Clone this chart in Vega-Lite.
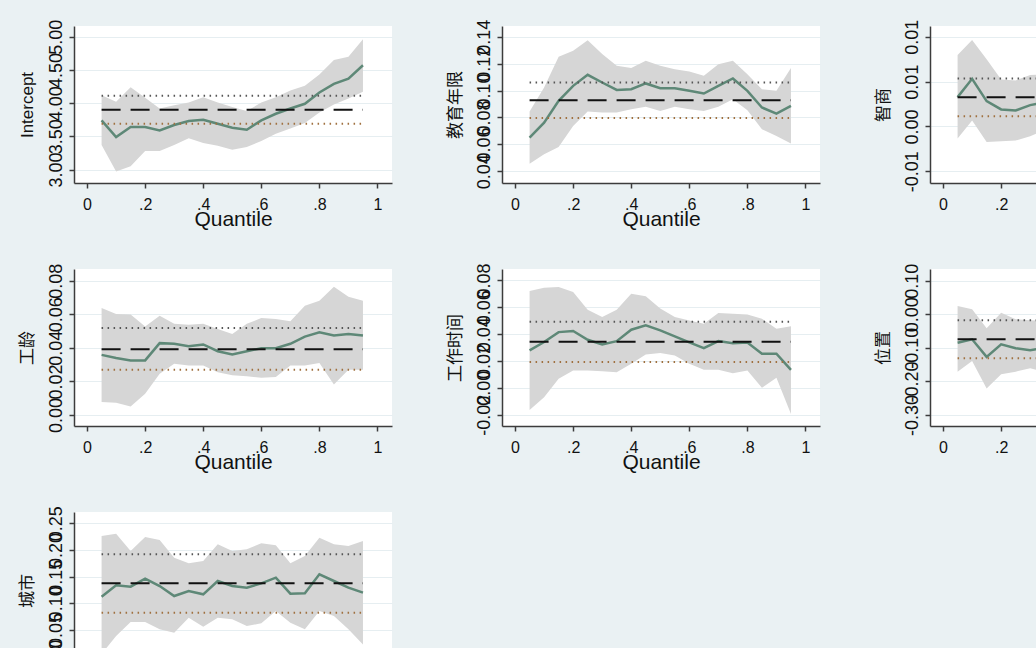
{
  "$schema": "https://vega.github.io/schema/vega-lite/v6.json",
  "padding": {"left": 18, "top": 19, "right": 0, "bottom": 0},
  "datasets": {
    "qr": [
      {"v":"Intercept","q":0.05,"b":3.74,"lo":3.37,"hi":4.12},
      {"v":"Intercept","q":0.10,"b":3.49,"lo":2.97,"hi":4.02},
      {"v":"Intercept","q":0.15,"b":3.64,"lo":3.05,"hi":4.24},
      {"v":"Intercept","q":0.20,"b":3.64,"lo":3.28,"hi":4.08},
      {"v":"Intercept","q":0.25,"b":3.59,"lo":3.28,"hi":3.92},
      {"v":"Intercept","q":0.30,"b":3.67,"lo":3.37,"hi":3.97},
      {"v":"Intercept","q":0.35,"b":3.73,"lo":3.47,"hi":4.01},
      {"v":"Intercept","q":0.40,"b":3.75,"lo":3.40,"hi":4.09},
      {"v":"Intercept","q":0.45,"b":3.69,"lo":3.36,"hi":4.01},
      {"v":"Intercept","q":0.50,"b":3.63,"lo":3.30,"hi":3.94},
      {"v":"Intercept","q":0.55,"b":3.60,"lo":3.34,"hi":3.88},
      {"v":"Intercept","q":0.60,"b":3.74,"lo":3.43,"hi":4.01},
      {"v":"Intercept","q":0.65,"b":3.84,"lo":3.54,"hi":4.09},
      {"v":"Intercept","q":0.70,"b":3.92,"lo":3.62,"hi":4.19},
      {"v":"Intercept","q":0.75,"b":3.99,"lo":3.70,"hi":4.26},
      {"v":"Intercept","q":0.80,"b":4.16,"lo":3.86,"hi":4.43},
      {"v":"Intercept","q":0.85,"b":4.29,"lo":3.98,"hi":4.65},
      {"v":"Intercept","q":0.90,"b":4.37,"lo":4.07,"hi":4.70},
      {"v":"Intercept","q":0.95,"b":4.57,"lo":4.17,"hi":4.96},

      {"v":"教育年限","q":0.05,"b":0.0651,"lo":0.0457,"hi":0.0844},
      {"v":"教育年限","q":0.10,"b":0.0762,"lo":0.0527,"hi":0.1023},
      {"v":"教育年限","q":0.15,"b":0.0924,"lo":0.0581,"hi":0.1251},
      {"v":"教育年限","q":0.20,"b":0.1035,"lo":0.0737,"hi":0.1296},
      {"v":"教育年限","q":0.25,"b":0.1117,"lo":0.0844,"hi":0.1375},
      {"v":"教育年限","q":0.30,"b":0.1060,"lo":0.0837,"hi":0.1271},
      {"v":"教育年限","q":0.35,"b":0.1005,"lo":0.0837,"hi":0.1184},
      {"v":"教育年限","q":0.40,"b":0.1010,"lo":0.0862,"hi":0.1167},
      {"v":"教育年限","q":0.45,"b":0.1053,"lo":0.0879,"hi":0.1221},
      {"v":"教育年限","q":0.50,"b":0.1018,"lo":0.0849,"hi":0.1184},
      {"v":"教育年限","q":0.55,"b":0.1018,"lo":0.0879,"hi":0.1159},
      {"v":"教育年限","q":0.60,"b":0.0998,"lo":0.0862,"hi":0.1142},
      {"v":"教育年限","q":0.65,"b":0.0978,"lo":0.0849,"hi":0.1110},
      {"v":"教育年限","q":0.70,"b":0.1035,"lo":0.0879,"hi":0.1196},
      {"v":"教育年限","q":0.75,"b":0.1090,"lo":0.0936,"hi":0.1221},
      {"v":"教育年限","q":0.80,"b":0.0998,"lo":0.0854,"hi":0.1122},
      {"v":"教育年限","q":0.85,"b":0.0874,"lo":0.0713,"hi":0.1010},
      {"v":"教育年限","q":0.90,"b":0.0829,"lo":0.0663,"hi":0.0998},
      {"v":"教育年限","q":0.95,"b":0.0886,"lo":0.0606,"hi":0.1167},

      {"v":"智商","q":0.05,"b":0.00327,"lo":-0.00134,"hi":0.00796},
      {"v":"智商","q":0.10,"b":0.00531,"lo":0.00067,"hi":0.00963},
      {"v":"智商","q":0.15,"b":0.00282,"lo":-0.00172,"hi":0.00748},
      {"v":"智商","q":0.20,"b":0.00190,"lo":-0.00164,"hi":0.00525},
      {"v":"智商","q":0.25,"b":0.00179,"lo":-0.00156,"hi":0.00513},
      {"v":"智商","q":0.30,"b":0.00238,"lo":-0.00108,"hi":0.00573},
      {"v":"智商","q":0.35,"b":0.00270,"lo":-0.00040,"hi":0.00580},
      {"v":"智商","q":0.40,"b":0.00300,"lo":0.00000,"hi":0.00600},
      {"v":"智商","q":0.45,"b":0.00330,"lo":0.00040,"hi":0.00620},
      {"v":"智商","q":0.50,"b":0.00350,"lo":0.00060,"hi":0.00640},
      {"v":"智商","q":0.55,"b":0.00320,"lo":0.00030,"hi":0.00610},
      {"v":"智商","q":0.60,"b":0.00360,"lo":0.00060,"hi":0.00660},
      {"v":"智商","q":0.65,"b":0.00400,"lo":0.00090,"hi":0.00710},
      {"v":"智商","q":0.70,"b":0.00380,"lo":0.00060,"hi":0.00700},
      {"v":"智商","q":0.75,"b":0.00340,"lo":0.00000,"hi":0.00680},
      {"v":"智商","q":0.80,"b":0.00310,"lo":-0.00040,"hi":0.00660},
      {"v":"智商","q":0.85,"b":0.00360,"lo":-0.00010,"hi":0.00730},
      {"v":"智商","q":0.90,"b":0.00410,"lo":0.00020,"hi":0.00800},
      {"v":"智商","q":0.95,"b":0.00450,"lo":0.00020,"hi":0.00880},

      {"v":"工龄","q":0.05,"b":0.0358,"lo":0.0077,"hi":0.0638},
      {"v":"工龄","q":0.10,"b":0.0339,"lo":0.0073,"hi":0.0602},
      {"v":"工龄","q":0.15,"b":0.0325,"lo":0.0051,"hi":0.0598},
      {"v":"工龄","q":0.20,"b":0.0325,"lo":0.0127,"hi":0.0527},
      {"v":"工龄","q":0.25,"b":0.0428,"lo":0.0246,"hi":0.0592},
      {"v":"工龄","q":0.30,"b":0.0424,"lo":0.0305,"hi":0.0543},
      {"v":"工龄","q":0.35,"b":0.0410,"lo":0.0295,"hi":0.0537},
      {"v":"工龄","q":0.40,"b":0.0420,"lo":0.0295,"hi":0.0543},
      {"v":"工龄","q":0.45,"b":0.0380,"lo":0.0255,"hi":0.0513},
      {"v":"工龄","q":0.50,"b":0.0360,"lo":0.0236,"hi":0.0483},
      {"v":"工龄","q":0.55,"b":0.0380,"lo":0.0230,"hi":0.0543},
      {"v":"工龄","q":0.60,"b":0.0398,"lo":0.0222,"hi":0.0578},
      {"v":"工龄","q":0.65,"b":0.0398,"lo":0.0226,"hi":0.0572},
      {"v":"工龄","q":0.70,"b":0.0424,"lo":0.0295,"hi":0.0558},
      {"v":"工龄","q":0.75,"b":0.0467,"lo":0.0295,"hi":0.0651},
      {"v":"工龄","q":0.80,"b":0.0493,"lo":0.0309,"hi":0.0681},
      {"v":"工龄","q":0.85,"b":0.0473,"lo":0.0182,"hi":0.0764},
      {"v":"工龄","q":0.90,"b":0.0483,"lo":0.0269,"hi":0.0705},
      {"v":"工龄","q":0.95,"b":0.0473,"lo":0.0269,"hi":0.0681},

      {"v":"工作时间","q":0.05,"b":0.0279,"lo":-0.0164,"hi":0.0721},
      {"v":"工作时间","q":0.10,"b":0.0341,"lo":-0.0070,"hi":0.0746},
      {"v":"工作时间","q":0.15,"b":0.0415,"lo":0.0067,"hi":0.0751},
      {"v":"工作时间","q":0.20,"b":0.0423,"lo":0.0129,"hi":0.0714},
      {"v":"工作时间","q":0.25,"b":0.0358,"lo":0.0129,"hi":0.0582},
      {"v":"工作时间","q":0.30,"b":0.0323,"lo":0.0124,"hi":0.0527},
      {"v":"工作时间","q":0.35,"b":0.0348,"lo":0.0117,"hi":0.0582},
      {"v":"工作时间","q":0.40,"b":0.0433,"lo":0.0179,"hi":0.0701},
      {"v":"工作时间","q":0.45,"b":0.0465,"lo":0.0249,"hi":0.0682},
      {"v":"工作时间","q":0.50,"b":0.0428,"lo":0.0259,"hi":0.0590},
      {"v":"工作时间","q":0.55,"b":0.0383,"lo":0.0241,"hi":0.0527},
      {"v":"工作时间","q":0.60,"b":0.0338,"lo":0.0179,"hi":0.0502},
      {"v":"工作时间","q":0.65,"b":0.0296,"lo":0.0134,"hi":0.0478},
      {"v":"工作时间","q":0.70,"b":0.0348,"lo":0.0134,"hi":0.0557},
      {"v":"工作时间","q":0.75,"b":0.0333,"lo":0.0109,"hi":0.0552},
      {"v":"工作时间","q":0.80,"b":0.0338,"lo":0.0129,"hi":0.0547},
      {"v":"工作时间","q":0.85,"b":0.0254,"lo":0.0000,"hi":0.0515},
      {"v":"工作时间","q":0.90,"b":0.0254,"lo":0.0075,"hi":0.0440},
      {"v":"工作时间","q":0.95,"b":0.0134,"lo":-0.0194,"hi":0.0458},

      {"v":"位置","q":0.05,"b":-0.0847,"lo":-0.171,"hi":0.0248},
      {"v":"位置","q":0.10,"b":-0.0746,"lo":-0.139,"hi":0.0149},
      {"v":"位置","q":0.15,"b":-0.127,"lo":-0.221,"hi":-0.0418},
      {"v":"位置","q":0.20,"b":-0.0896,"lo":-0.179,"hi":0.0048},
      {"v":"位置","q":0.25,"b":-0.101,"lo":-0.171,"hi":-0.0149},
      {"v":"位置","q":0.30,"b":-0.107,"lo":-0.161,"hi":-0.018},
      {"v":"位置","q":0.35,"b":-0.100,"lo":-0.172,"hi":-0.020},
      {"v":"位置","q":0.40,"b":-0.095,"lo":-0.168,"hi":-0.015},
      {"v":"位置","q":0.45,"b":-0.088,"lo":-0.160,"hi":-0.010},
      {"v":"位置","q":0.50,"b":-0.080,"lo":-0.152,"hi":-0.005},
      {"v":"位置","q":0.55,"b":-0.085,"lo":-0.160,"hi":-0.008},
      {"v":"位置","q":0.60,"b":-0.075,"lo":-0.150,"hi":0.002},
      {"v":"位置","q":0.65,"b":-0.070,"lo":-0.148,"hi":0.008},
      {"v":"位置","q":0.70,"b":-0.078,"lo":-0.155,"hi":0.000},
      {"v":"位置","q":0.75,"b":-0.066,"lo":-0.145,"hi":0.015},
      {"v":"位置","q":0.80,"b":-0.060,"lo":-0.142,"hi":0.022},
      {"v":"位置","q":0.85,"b":-0.072,"lo":-0.155,"hi":0.010},
      {"v":"位置","q":0.90,"b":-0.068,"lo":-0.160,"hi":0.020},
      {"v":"位置","q":0.95,"b":-0.058,"lo":-0.155,"hi":0.035},

      {"v":"城市","q":0.05,"b":0.1125,"lo":0.005,"hi":0.2263},
      {"v":"城市","q":0.10,"b":0.1338,"lo":0.0388,"hi":0.2306},
      {"v":"城市","q":0.15,"b":0.1313,"lo":0.065,"hi":0.1981},
      {"v":"城市","q":0.20,"b":0.1463,"lo":0.065,"hi":0.2244},
      {"v":"城市","q":0.25,"b":0.1325,"lo":0.0513,"hi":0.2188},
      {"v":"城市","q":0.30,"b":0.1138,"lo":0.045,"hi":0.1856},
      {"v":"城市","q":0.35,"b":0.1231,"lo":0.0731,"hi":0.175},
      {"v":"城市","q":0.40,"b":0.1169,"lo":0.0563,"hi":0.1794},
      {"v":"城市","q":0.45,"b":0.1419,"lo":0.0731,"hi":0.2106},
      {"v":"城市","q":0.50,"b":0.1325,"lo":0.070,"hi":0.1981},
      {"v":"城市","q":0.55,"b":0.1294,"lo":0.0575,"hi":0.2013},
      {"v":"城市","q":0.60,"b":0.1375,"lo":0.0625,"hi":0.2125},
      {"v":"城市","q":0.65,"b":0.1481,"lo":0.0856,"hi":0.2088},
      {"v":"城市","q":0.70,"b":0.1181,"lo":0.0638,"hi":0.175},
      {"v":"城市","q":0.75,"b":0.1188,"lo":0.0513,"hi":0.1888},
      {"v":"城市","q":0.80,"b":0.1544,"lo":0.0856,"hi":0.2231},
      {"v":"城市","q":0.85,"b":0.1419,"lo":0.0763,"hi":0.2106},
      {"v":"城市","q":0.90,"b":0.1294,"lo":0.0513,"hi":0.2075},
      {"v":"城市","q":0.95,"b":0.1200,"lo":0.0231,"hi":0.2169}
    ],
    "ols": [
      {"v":"Intercept","q":0.05,"est":3.90,"lo":3.69,"hi":4.11},
      {"v":"Intercept","q":0.95,"est":3.90,"lo":3.69,"hi":4.11},
      {"v":"教育年限","q":0.05,"est":0.0929,"lo":0.0797,"hi":0.1060},
      {"v":"教育年限","q":0.95,"est":0.0929,"lo":0.0797,"hi":0.1060},
      {"v":"智商","q":0.05,"est":0.00327,"lo":0.00115,"hi":0.00536},
      {"v":"智商","q":0.95,"est":0.00327,"lo":0.00115,"hi":0.00536},
      {"v":"工龄","q":0.05,"est":0.0392,"lo":0.0269,"hi":0.0519},
      {"v":"工龄","q":0.95,"est":0.0392,"lo":0.0269,"hi":0.0519},
      {"v":"工作时间","q":0.05,"est":0.0343,"lo":0.0192,"hi":0.0493},
      {"v":"工作时间","q":0.95,"est":0.0343,"lo":0.0192,"hi":0.0493},
      {"v":"位置","q":0.05,"est":-0.0746,"lo":-0.131,"hi":-0.018},
      {"v":"位置","q":0.95,"est":-0.0746,"lo":-0.131,"hi":-0.018},
      {"v":"城市","q":0.05,"est":0.1375,"lo":0.0825,"hi":0.1919},
      {"v":"城市","q":0.95,"est":0.1375,"lo":0.0825,"hi":0.1919}
    ]
  },
  "columns": 3,
  "spacing": {"row": 86, "column": 110},
  "bounds": "flush",
  "concat": [
      {"width":318,"height":157,"layer":[
        {"data":{"name":"qr"},"transform":[{"filter":"datum.v==='Intercept'"}],"mark":{"type":"area","color":"#d6d6d6","opacity":1},
         "encoding":{"x":{"field":"q","type":"quantitative","title":"Quantile","scale":{"domain":[-0.045,1.05],"nice":false,"zero":false},"axis":{"values":[0,0.2,0.4,0.6,0.8,1],"labelOverlap":false,"labelExpr":"datum.value===0?'0':datum.value===1?'1':'.'+round(datum.value*10)"}},
                     "y":{"field":"hi","type":"quantitative","title":"Intercept","scale":{"domain":[2.798,5.161],"nice":false,"zero":false},"axis":{"values":[3,3.5,4,4.5,5],"labelOverlap":false,"labelExpr":"replace(format(datum.value,'.2f'),'\u2212','-')"}},
                     "y2":{"field":"lo"}}},
        {"data":{"name":"qr"},"transform":[{"filter":"datum.v==='Intercept'"}],"mark":{"type":"line","color":"#5e8877","strokeWidth":2.5},
         "encoding":{"x":{"field":"q","type":"quantitative","title":"Quantile","axis":{"values":[0,0.2,0.4,0.6,0.8,1],"labelOverlap":false,"labelExpr":"datum.value===0?'0':datum.value===1?'1':'.'+round(datum.value*10)"}},"y":{"field":"b","type":"quantitative","title":"Intercept","axis":{"values":[3,3.5,4,4.5,5],"labelOverlap":false,"labelExpr":"replace(format(datum.value,'.2f'),'\u2212','-')"}}}},
        {"data":{"name":"ols"},"transform":[{"filter":"datum.v==='Intercept'"}],"mark":{"type":"line","color":"#555555","strokeWidth":2,"strokeDash":[1.5,4.5]},
         "encoding":{"x":{"field":"q","type":"quantitative","title":"Quantile","axis":{"values":[0,0.2,0.4,0.6,0.8,1],"labelOverlap":false,"labelExpr":"datum.value===0?'0':datum.value===1?'1':'.'+round(datum.value*10)"}},"y":{"field":"hi","type":"quantitative","title":"Intercept","axis":{"values":[3,3.5,4,4.5,5],"labelOverlap":false,"labelExpr":"replace(format(datum.value,'.2f'),'\u2212','-')"}}}},
        {"data":{"name":"ols"},"transform":[{"filter":"datum.v==='Intercept'"}],"mark":{"type":"line","color":"#a0703f","strokeWidth":2,"strokeDash":[1.5,4.5]},
         "encoding":{"x":{"field":"q","type":"quantitative","title":"Quantile","axis":{"values":[0,0.2,0.4,0.6,0.8,1],"labelOverlap":false,"labelExpr":"datum.value===0?'0':datum.value===1?'1':'.'+round(datum.value*10)"}},"y":{"field":"lo","type":"quantitative","title":"Intercept","axis":{"values":[3,3.5,4,4.5,5],"labelOverlap":false,"labelExpr":"replace(format(datum.value,'.2f'),'\u2212','-')"}}}},
        {"data":{"name":"ols"},"transform":[{"filter":"datum.v==='Intercept'"}],"mark":{"type":"line","color":"#111111","strokeWidth":2,"strokeDash":[19,10]},
         "encoding":{"x":{"field":"q","type":"quantitative","title":"Quantile","axis":{"values":[0,0.2,0.4,0.6,0.8,1],"labelOverlap":false,"labelExpr":"datum.value===0?'0':datum.value===1?'1':'.'+round(datum.value*10)"}},"y":{"field":"est","type":"quantitative","title":"Intercept","axis":{"values":[3,3.5,4,4.5,5],"labelOverlap":false,"labelExpr":"replace(format(datum.value,'.2f'),'\u2212','-')"}}}}
      ]},
      {"width":318,"height":157,"layer":[
        {"data":{"name":"qr"},"transform":[{"filter":"datum.v==='教育年限'"}],"mark":{"type":"area","color":"#d6d6d6","opacity":1},
         "encoding":{"x":{"field":"q","type":"quantitative","title":"Quantile","scale":{"domain":[-0.045,1.05],"nice":false,"zero":false},"axis":{"values":[0,0.2,0.4,0.6,0.8,1],"labelOverlap":false,"labelExpr":"datum.value===0?'0':datum.value===1?'1':'.'+round(datum.value*10)"}},
                     "y":{"field":"hi","type":"quantitative","title":"教育年限","scale":{"domain":[0.0313,0.148],"nice":false,"zero":false},"axis":{"values":[0.04,0.06,0.08,0.10,0.12,0.14],"labelOverlap":false,"labelExpr":"replace(format(datum.value,'.2f'),'\u2212','-')"}},
                     "y2":{"field":"lo"}}},
        {"data":{"name":"qr"},"transform":[{"filter":"datum.v==='教育年限'"}],"mark":{"type":"line","color":"#5e8877","strokeWidth":2.5},
         "encoding":{"x":{"field":"q","type":"quantitative","title":"Quantile","axis":{"values":[0,0.2,0.4,0.6,0.8,1],"labelOverlap":false,"labelExpr":"datum.value===0?'0':datum.value===1?'1':'.'+round(datum.value*10)"}},"y":{"field":"b","type":"quantitative","title":"教育年限","axis":{"values":[0.04,0.06,0.08,0.10,0.12,0.14],"labelOverlap":false,"labelExpr":"replace(format(datum.value,'.2f'),'\u2212','-')"}}}},
        {"data":{"name":"ols"},"transform":[{"filter":"datum.v==='教育年限'"}],"mark":{"type":"line","color":"#555555","strokeWidth":2,"strokeDash":[1.5,4.5]},
         "encoding":{"x":{"field":"q","type":"quantitative","title":"Quantile","axis":{"values":[0,0.2,0.4,0.6,0.8,1],"labelOverlap":false,"labelExpr":"datum.value===0?'0':datum.value===1?'1':'.'+round(datum.value*10)"}},"y":{"field":"hi","type":"quantitative","title":"教育年限","axis":{"values":[0.04,0.06,0.08,0.10,0.12,0.14],"labelOverlap":false,"labelExpr":"replace(format(datum.value,'.2f'),'\u2212','-')"}}}},
        {"data":{"name":"ols"},"transform":[{"filter":"datum.v==='教育年限'"}],"mark":{"type":"line","color":"#a0703f","strokeWidth":2,"strokeDash":[1.5,4.5]},
         "encoding":{"x":{"field":"q","type":"quantitative","title":"Quantile","axis":{"values":[0,0.2,0.4,0.6,0.8,1],"labelOverlap":false,"labelExpr":"datum.value===0?'0':datum.value===1?'1':'.'+round(datum.value*10)"}},"y":{"field":"lo","type":"quantitative","title":"教育年限","axis":{"values":[0.04,0.06,0.08,0.10,0.12,0.14],"labelOverlap":false,"labelExpr":"replace(format(datum.value,'.2f'),'\u2212','-')"}}}},
        {"data":{"name":"ols"},"transform":[{"filter":"datum.v==='教育年限'"}],"mark":{"type":"line","color":"#111111","strokeWidth":2,"strokeDash":[19,10]},
         "encoding":{"x":{"field":"q","type":"quantitative","title":"Quantile","axis":{"values":[0,0.2,0.4,0.6,0.8,1],"labelOverlap":false,"labelExpr":"datum.value===0?'0':datum.value===1?'1':'.'+round(datum.value*10)"}},"y":{"field":"est","type":"quantitative","title":"教育年限","axis":{"values":[0.04,0.06,0.08,0.10,0.12,0.14],"labelOverlap":false,"labelExpr":"replace(format(datum.value,'.2f'),'\u2212','-')"}}}}
      ]},
      {"width":318,"height":157,"layer":[
        {"data":{"name":"qr"},"transform":[{"filter":"datum.v==='智商'"}],"mark":{"type":"area","color":"#d6d6d6","opacity":1},
         "encoding":{"x":{"field":"q","type":"quantitative","title":"Quantile","scale":{"domain":[-0.045,1.05],"nice":false,"zero":false},"axis":{"values":[0,0.2,0.4,0.6,0.8,1],"labelOverlap":false,"labelExpr":"datum.value===0?'0':datum.value===1?'1':'.'+round(datum.value*10)"}},
                     "y":{"field":"hi","type":"quantitative","title":"智商","scale":{"domain":[-0.0063,0.0112],"nice":false,"zero":false},"axis":{"values":[-0.005,0,0.005,0.01],"labelOverlap":false,"labelExpr":"replace(format(datum.value,'.2f'),'\u2212','-')"}},
                     "y2":{"field":"lo"}}},
        {"data":{"name":"qr"},"transform":[{"filter":"datum.v==='智商'"}],"mark":{"type":"line","color":"#5e8877","strokeWidth":2.5},
         "encoding":{"x":{"field":"q","type":"quantitative","title":"Quantile","axis":{"values":[0,0.2,0.4,0.6,0.8,1],"labelOverlap":false,"labelExpr":"datum.value===0?'0':datum.value===1?'1':'.'+round(datum.value*10)"}},"y":{"field":"b","type":"quantitative","title":"智商","axis":{"values":[-0.005,0,0.005,0.01],"labelOverlap":false,"labelExpr":"replace(format(datum.value,'.2f'),'\u2212','-')"}}}},
        {"data":{"name":"ols"},"transform":[{"filter":"datum.v==='智商'"}],"mark":{"type":"line","color":"#555555","strokeWidth":2,"strokeDash":[1.5,4.5]},
         "encoding":{"x":{"field":"q","type":"quantitative","title":"Quantile","axis":{"values":[0,0.2,0.4,0.6,0.8,1],"labelOverlap":false,"labelExpr":"datum.value===0?'0':datum.value===1?'1':'.'+round(datum.value*10)"}},"y":{"field":"hi","type":"quantitative","title":"智商","axis":{"values":[-0.005,0,0.005,0.01],"labelOverlap":false,"labelExpr":"replace(format(datum.value,'.2f'),'\u2212','-')"}}}},
        {"data":{"name":"ols"},"transform":[{"filter":"datum.v==='智商'"}],"mark":{"type":"line","color":"#a0703f","strokeWidth":2,"strokeDash":[1.5,4.5]},
         "encoding":{"x":{"field":"q","type":"quantitative","title":"Quantile","axis":{"values":[0,0.2,0.4,0.6,0.8,1],"labelOverlap":false,"labelExpr":"datum.value===0?'0':datum.value===1?'1':'.'+round(datum.value*10)"}},"y":{"field":"lo","type":"quantitative","title":"智商","axis":{"values":[-0.005,0,0.005,0.01],"labelOverlap":false,"labelExpr":"replace(format(datum.value,'.2f'),'\u2212','-')"}}}},
        {"data":{"name":"ols"},"transform":[{"filter":"datum.v==='智商'"}],"mark":{"type":"line","color":"#111111","strokeWidth":2,"strokeDash":[19,10]},
         "encoding":{"x":{"field":"q","type":"quantitative","title":"Quantile","axis":{"values":[0,0.2,0.4,0.6,0.8,1],"labelOverlap":false,"labelExpr":"datum.value===0?'0':datum.value===1?'1':'.'+round(datum.value*10)"}},"y":{"field":"est","type":"quantitative","title":"智商","axis":{"values":[-0.005,0,0.005,0.01],"labelOverlap":false,"labelExpr":"replace(format(datum.value,'.2f'),'\u2212','-')"}}}}
      ]},
      {"width":318,"height":157,"layer":[
        {"data":{"name":"qr"},"transform":[{"filter":"datum.v==='工龄'"}],"mark":{"type":"area","color":"#d6d6d6","opacity":1},
         "encoding":{"x":{"field":"q","type":"quantitative","title":"Quantile","scale":{"domain":[-0.045,1.05],"nice":false,"zero":false},"axis":{"values":[0,0.2,0.4,0.6,0.8,1],"labelOverlap":false,"labelExpr":"datum.value===0?'0':datum.value===1?'1':'.'+round(datum.value*10)"}},
                     "y":{"field":"hi","type":"quantitative","title":"工龄","scale":{"domain":[-0.0066,0.087],"nice":false,"zero":false},"axis":{"values":[0,0.02,0.04,0.06,0.08],"labelOverlap":false,"labelExpr":"replace(format(datum.value,'.2f'),'\u2212','-')"}},
                     "y2":{"field":"lo"}}},
        {"data":{"name":"qr"},"transform":[{"filter":"datum.v==='工龄'"}],"mark":{"type":"line","color":"#5e8877","strokeWidth":2.5},
         "encoding":{"x":{"field":"q","type":"quantitative","title":"Quantile","axis":{"values":[0,0.2,0.4,0.6,0.8,1],"labelOverlap":false,"labelExpr":"datum.value===0?'0':datum.value===1?'1':'.'+round(datum.value*10)"}},"y":{"field":"b","type":"quantitative","title":"工龄","axis":{"values":[0,0.02,0.04,0.06,0.08],"labelOverlap":false,"labelExpr":"replace(format(datum.value,'.2f'),'\u2212','-')"}}}},
        {"data":{"name":"ols"},"transform":[{"filter":"datum.v==='工龄'"}],"mark":{"type":"line","color":"#555555","strokeWidth":2,"strokeDash":[1.5,4.5]},
         "encoding":{"x":{"field":"q","type":"quantitative","title":"Quantile","axis":{"values":[0,0.2,0.4,0.6,0.8,1],"labelOverlap":false,"labelExpr":"datum.value===0?'0':datum.value===1?'1':'.'+round(datum.value*10)"}},"y":{"field":"hi","type":"quantitative","title":"工龄","axis":{"values":[0,0.02,0.04,0.06,0.08],"labelOverlap":false,"labelExpr":"replace(format(datum.value,'.2f'),'\u2212','-')"}}}},
        {"data":{"name":"ols"},"transform":[{"filter":"datum.v==='工龄'"}],"mark":{"type":"line","color":"#a0703f","strokeWidth":2,"strokeDash":[1.5,4.5]},
         "encoding":{"x":{"field":"q","type":"quantitative","title":"Quantile","axis":{"values":[0,0.2,0.4,0.6,0.8,1],"labelOverlap":false,"labelExpr":"datum.value===0?'0':datum.value===1?'1':'.'+round(datum.value*10)"}},"y":{"field":"lo","type":"quantitative","title":"工龄","axis":{"values":[0,0.02,0.04,0.06,0.08],"labelOverlap":false,"labelExpr":"replace(format(datum.value,'.2f'),'\u2212','-')"}}}},
        {"data":{"name":"ols"},"transform":[{"filter":"datum.v==='工龄'"}],"mark":{"type":"line","color":"#111111","strokeWidth":2,"strokeDash":[19,10]},
         "encoding":{"x":{"field":"q","type":"quantitative","title":"Quantile","axis":{"values":[0,0.2,0.4,0.6,0.8,1],"labelOverlap":false,"labelExpr":"datum.value===0?'0':datum.value===1?'1':'.'+round(datum.value*10)"}},"y":{"field":"est","type":"quantitative","title":"工龄","axis":{"values":[0,0.02,0.04,0.06,0.08],"labelOverlap":false,"labelExpr":"replace(format(datum.value,'.2f'),'\u2212','-')"}}}}
      ]},
      {"width":318,"height":157,"layer":[
        {"data":{"name":"qr"},"transform":[{"filter":"datum.v==='工作时间'"}],"mark":{"type":"area","color":"#d6d6d6","opacity":1},
         "encoding":{"x":{"field":"q","type":"quantitative","title":"Quantile","scale":{"domain":[-0.045,1.05],"nice":false,"zero":false},"axis":{"values":[0,0.2,0.4,0.6,0.8,1],"labelOverlap":false,"labelExpr":"datum.value===0?'0':datum.value===1?'1':'.'+round(datum.value*10)"}},
                     "y":{"field":"hi","type":"quantitative","title":"工作时间","scale":{"domain":[-0.0284,0.0885],"nice":false,"zero":false},"axis":{"values":[-0.02,0,0.02,0.04,0.06,0.08],"labelOverlap":false,"labelExpr":"replace(format(datum.value,'.2f'),'\u2212','-')"}},
                     "y2":{"field":"lo"}}},
        {"data":{"name":"qr"},"transform":[{"filter":"datum.v==='工作时间'"}],"mark":{"type":"line","color":"#5e8877","strokeWidth":2.5},
         "encoding":{"x":{"field":"q","type":"quantitative","title":"Quantile","axis":{"values":[0,0.2,0.4,0.6,0.8,1],"labelOverlap":false,"labelExpr":"datum.value===0?'0':datum.value===1?'1':'.'+round(datum.value*10)"}},"y":{"field":"b","type":"quantitative","title":"工作时间","axis":{"values":[-0.02,0,0.02,0.04,0.06,0.08],"labelOverlap":false,"labelExpr":"replace(format(datum.value,'.2f'),'\u2212','-')"}}}},
        {"data":{"name":"ols"},"transform":[{"filter":"datum.v==='工作时间'"}],"mark":{"type":"line","color":"#555555","strokeWidth":2,"strokeDash":[1.5,4.5]},
         "encoding":{"x":{"field":"q","type":"quantitative","title":"Quantile","axis":{"values":[0,0.2,0.4,0.6,0.8,1],"labelOverlap":false,"labelExpr":"datum.value===0?'0':datum.value===1?'1':'.'+round(datum.value*10)"}},"y":{"field":"hi","type":"quantitative","title":"工作时间","axis":{"values":[-0.02,0,0.02,0.04,0.06,0.08],"labelOverlap":false,"labelExpr":"replace(format(datum.value,'.2f'),'\u2212','-')"}}}},
        {"data":{"name":"ols"},"transform":[{"filter":"datum.v==='工作时间'"}],"mark":{"type":"line","color":"#a0703f","strokeWidth":2,"strokeDash":[1.5,4.5]},
         "encoding":{"x":{"field":"q","type":"quantitative","title":"Quantile","axis":{"values":[0,0.2,0.4,0.6,0.8,1],"labelOverlap":false,"labelExpr":"datum.value===0?'0':datum.value===1?'1':'.'+round(datum.value*10)"}},"y":{"field":"lo","type":"quantitative","title":"工作时间","axis":{"values":[-0.02,0,0.02,0.04,0.06,0.08],"labelOverlap":false,"labelExpr":"replace(format(datum.value,'.2f'),'\u2212','-')"}}}},
        {"data":{"name":"ols"},"transform":[{"filter":"datum.v==='工作时间'"}],"mark":{"type":"line","color":"#111111","strokeWidth":2,"strokeDash":[19,10]},
         "encoding":{"x":{"field":"q","type":"quantitative","title":"Quantile","axis":{"values":[0,0.2,0.4,0.6,0.8,1],"labelOverlap":false,"labelExpr":"datum.value===0?'0':datum.value===1?'1':'.'+round(datum.value*10)"}},"y":{"field":"est","type":"quantitative","title":"工作时间","axis":{"values":[-0.02,0,0.02,0.04,0.06,0.08],"labelOverlap":false,"labelExpr":"replace(format(datum.value,'.2f'),'\u2212','-')"}}}}
      ]},
      {"width":318,"height":157,"layer":[
        {"data":{"name":"qr"},"transform":[{"filter":"datum.v==='位置'"}],"mark":{"type":"area","color":"#d6d6d6","opacity":1},
         "encoding":{"x":{"field":"q","type":"quantitative","title":"Quantile","scale":{"domain":[-0.045,1.05],"nice":false,"zero":false},"axis":{"values":[0,0.2,0.4,0.6,0.8,1],"labelOverlap":false,"labelExpr":"datum.value===0?'0':datum.value===1?'1':'.'+round(datum.value*10)"}},
                     "y":{"field":"hi","type":"quantitative","title":"位置","scale":{"domain":[-0.333,0.135],"nice":false,"zero":false},"axis":{"values":[-0.3,-0.2,-0.1,0,0.1],"labelOverlap":false,"labelExpr":"replace(format(datum.value,'.2f'),'\u2212','-')"}},
                     "y2":{"field":"lo"}}},
        {"data":{"name":"qr"},"transform":[{"filter":"datum.v==='位置'"}],"mark":{"type":"line","color":"#5e8877","strokeWidth":2.5},
         "encoding":{"x":{"field":"q","type":"quantitative","title":"Quantile","axis":{"values":[0,0.2,0.4,0.6,0.8,1],"labelOverlap":false,"labelExpr":"datum.value===0?'0':datum.value===1?'1':'.'+round(datum.value*10)"}},"y":{"field":"b","type":"quantitative","title":"位置","axis":{"values":[-0.3,-0.2,-0.1,0,0.1],"labelOverlap":false,"labelExpr":"replace(format(datum.value,'.2f'),'\u2212','-')"}}}},
        {"data":{"name":"ols"},"transform":[{"filter":"datum.v==='位置'"}],"mark":{"type":"line","color":"#555555","strokeWidth":2,"strokeDash":[1.5,4.5]},
         "encoding":{"x":{"field":"q","type":"quantitative","title":"Quantile","axis":{"values":[0,0.2,0.4,0.6,0.8,1],"labelOverlap":false,"labelExpr":"datum.value===0?'0':datum.value===1?'1':'.'+round(datum.value*10)"}},"y":{"field":"hi","type":"quantitative","title":"位置","axis":{"values":[-0.3,-0.2,-0.1,0,0.1],"labelOverlap":false,"labelExpr":"replace(format(datum.value,'.2f'),'\u2212','-')"}}}},
        {"data":{"name":"ols"},"transform":[{"filter":"datum.v==='位置'"}],"mark":{"type":"line","color":"#a0703f","strokeWidth":2,"strokeDash":[1.5,4.5]},
         "encoding":{"x":{"field":"q","type":"quantitative","title":"Quantile","axis":{"values":[0,0.2,0.4,0.6,0.8,1],"labelOverlap":false,"labelExpr":"datum.value===0?'0':datum.value===1?'1':'.'+round(datum.value*10)"}},"y":{"field":"lo","type":"quantitative","title":"位置","axis":{"values":[-0.3,-0.2,-0.1,0,0.1],"labelOverlap":false,"labelExpr":"replace(format(datum.value,'.2f'),'\u2212','-')"}}}},
        {"data":{"name":"ols"},"transform":[{"filter":"datum.v==='位置'"}],"mark":{"type":"line","color":"#111111","strokeWidth":2,"strokeDash":[19,10]},
         "encoding":{"x":{"field":"q","type":"quantitative","title":"Quantile","axis":{"values":[0,0.2,0.4,0.6,0.8,1],"labelOverlap":false,"labelExpr":"datum.value===0?'0':datum.value===1?'1':'.'+round(datum.value*10)"}},"y":{"field":"est","type":"quantitative","title":"位置","axis":{"values":[-0.3,-0.2,-0.1,0,0.1],"labelOverlap":false,"labelExpr":"replace(format(datum.value,'.2f'),'\u2212','-')"}}}}
      ]},
      {"width":318,"height":157,"layer":[
        {"data":{"name":"qr"},"transform":[{"filter":"datum.v==='城市'"}],"mark":{"type":"area","color":"#d6d6d6","opacity":1},
         "encoding":{"x":{"field":"q","type":"quantitative","title":"Quantile","scale":{"domain":[-0.045,1.05],"nice":false,"zero":false},"axis":{"values":[0,0.2,0.4,0.6,0.8,1],"labelOverlap":false,"labelExpr":"datum.value===0?'0':datum.value===1?'1':'.'+round(datum.value*10)"}},
                     "y":{"field":"hi","type":"quantitative","title":"城市","scale":{"domain":[-0.023,0.2712],"nice":false,"zero":false},"axis":{"values":[0,0.05,0.10,0.15,0.20,0.25],"labelOverlap":false,"labelExpr":"replace(format(datum.value,'.2f'),'\u2212','-')"}},
                     "y2":{"field":"lo"}}},
        {"data":{"name":"qr"},"transform":[{"filter":"datum.v==='城市'"}],"mark":{"type":"line","color":"#5e8877","strokeWidth":2.5},
         "encoding":{"x":{"field":"q","type":"quantitative","title":"Quantile","axis":{"values":[0,0.2,0.4,0.6,0.8,1],"labelOverlap":false,"labelExpr":"datum.value===0?'0':datum.value===1?'1':'.'+round(datum.value*10)"}},"y":{"field":"b","type":"quantitative","title":"城市","axis":{"values":[0,0.05,0.10,0.15,0.20,0.25],"labelOverlap":false,"labelExpr":"replace(format(datum.value,'.2f'),'\u2212','-')"}}}},
        {"data":{"name":"ols"},"transform":[{"filter":"datum.v==='城市'"}],"mark":{"type":"line","color":"#555555","strokeWidth":2,"strokeDash":[1.5,4.5]},
         "encoding":{"x":{"field":"q","type":"quantitative","title":"Quantile","axis":{"values":[0,0.2,0.4,0.6,0.8,1],"labelOverlap":false,"labelExpr":"datum.value===0?'0':datum.value===1?'1':'.'+round(datum.value*10)"}},"y":{"field":"hi","type":"quantitative","title":"城市","axis":{"values":[0,0.05,0.10,0.15,0.20,0.25],"labelOverlap":false,"labelExpr":"replace(format(datum.value,'.2f'),'\u2212','-')"}}}},
        {"data":{"name":"ols"},"transform":[{"filter":"datum.v==='城市'"}],"mark":{"type":"line","color":"#a0703f","strokeWidth":2,"strokeDash":[1.5,4.5]},
         "encoding":{"x":{"field":"q","type":"quantitative","title":"Quantile","axis":{"values":[0,0.2,0.4,0.6,0.8,1],"labelOverlap":false,"labelExpr":"datum.value===0?'0':datum.value===1?'1':'.'+round(datum.value*10)"}},"y":{"field":"lo","type":"quantitative","title":"城市","axis":{"values":[0,0.05,0.10,0.15,0.20,0.25],"labelOverlap":false,"labelExpr":"replace(format(datum.value,'.2f'),'\u2212','-')"}}}},
        {"data":{"name":"ols"},"transform":[{"filter":"datum.v==='城市'"}],"mark":{"type":"line","color":"#111111","strokeWidth":2,"strokeDash":[19,10]},
         "encoding":{"x":{"field":"q","type":"quantitative","title":"Quantile","axis":{"values":[0,0.2,0.4,0.6,0.8,1],"labelOverlap":false,"labelExpr":"datum.value===0?'0':datum.value===1?'1':'.'+round(datum.value*10)"}},"y":{"field":"est","type":"quantitative","title":"城市","axis":{"values":[0,0.05,0.10,0.15,0.20,0.25],"labelOverlap":false,"labelExpr":"replace(format(datum.value,'.2f'),'\u2212','-')"}}}}
      ]}
  ],
  "config": {
    "background": "#eaf1f3",
    "view": {"stroke": null, "fill": "#ffffff"},
    "font": "Liberation Sans, Arial, Noto Sans CJK SC",
    "axis": {
      "domainColor": "#3c3c3c", "domainWidth": 1.5,
      "tickColor": "#3c3c3c", "tickWidth": 1.5, "tickSize": 5,
      "labelFont": "Liberation Sans, Arial, Noto Sans CJK SC",
      "titleFont": "Liberation Sans, Arial, Noto Sans CJK SC",
      "labelColor": "#111111", "titleColor": "#111111",
      "titleFontWeight": "normal",
      "labelFlush": false, "labelBound": false
    },
    "axisX": {
      "grid": false, "labelFontSize": 16, "labelPadding": 8.5,
      "titleFontSize": 21, "titleY": 25, "titleBaseline": "top"
    },
    "axisY": {
      "grid": true, "gridColor": "#e6eef1", "gridWidth": 1.2,
      "labelAngle": -90, "labelAlign": "center", "labelBaseline": "alphabetic",
      "labelFontSize": 18, "labelPadding": 8,
      "titleFontSize": 17, "titleAngle": -90, "titleAlign": "center", "titleBaseline": "middle",
      "titleX": -47, "titleY": 78.5
    }
  }
}
